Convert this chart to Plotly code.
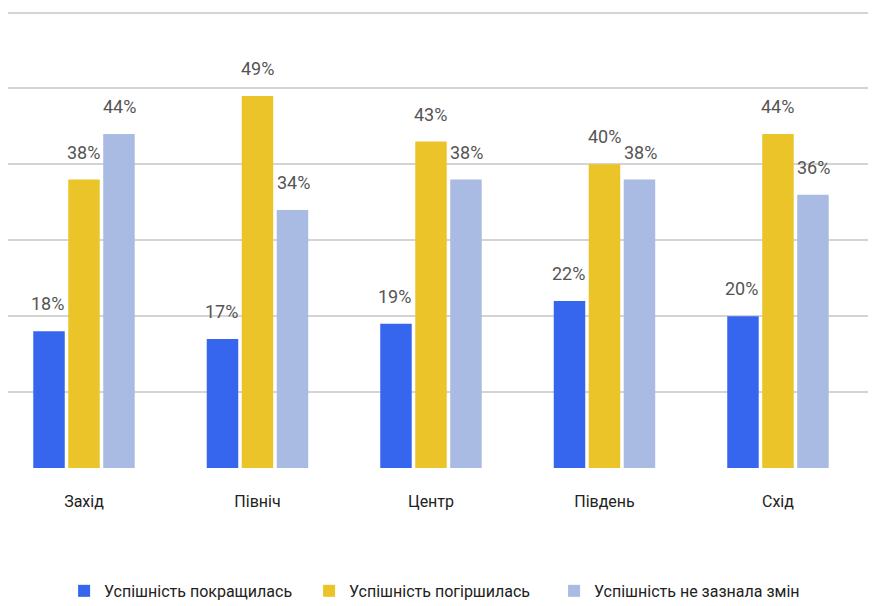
import plotly.graph_objects as go

regions = ["Захід", "Північ", "Центр", "Південь", "Схід"]
improved = [18, 17, 19, 22, 20]
worsened = [38, 49, 43, 40, 44]
unchanged = [44, 34, 38, 38, 36]

series = [
    ("Успішність покращилась", improved, "#3566ED"),
    ("Успішність погіршилась", worsened, "#EBC42A"),
    ("Успішність не зазнала змін", unchanged, "#A9BBE2"),
]

FONT = "Roboto, sans-serif"

fig = go.Figure()
for name, vals, color in series:
    fig.add_trace(go.Bar(x=regions, y=vals, name=name, marker_color=color,
                         marker_line_width=0))

# value labels above bars, offset per series within the group
shifts = [-36, 0, 36]
for (name, vals, color), dx in zip(series, shifts):
    for r, v in zip(regions, vals):
        fig.add_annotation(x=r, y=v, text=f"{v}%", showarrow=False,
                           xshift=dx, yshift=15, yanchor="bottom",
                           font=dict(family=FONT, size=18, color="#555555"))

# page body has an 8px margin, so the figure is a bit smaller than the window
fig.update_layout(
    width=868, height=598,
    margin=dict(l=0, r=0, t=3, b=138, autoexpand=False),
    plot_bgcolor="white", paper_bgcolor="white",
    barmode="group", bargap=0.395, bargroupgap=0.1,
    font=dict(family=FONT, size=16, color="#222222"),
    showlegend=True,
    legend=dict(orientation="h", x=0.488, xanchor="center", y=-0.269,
                yanchor="middle", font=dict(size=16, color="#222222"),
                itemwidth=30, entrywidth=200, entrywidthmode="pixels"),
    xaxis=dict(range=[-0.438, 4.565], showgrid=False, ticks="",
               ticklabelstandoff=22,
               tickfont=dict(size=16, color="#222222")),
    yaxis=dict(range=[0, 60.2], dtick=10, showticklabels=False,
               gridcolor="#d4d4d4", gridwidth=2, zeroline=False),
)

fig.write_html("out.html")
